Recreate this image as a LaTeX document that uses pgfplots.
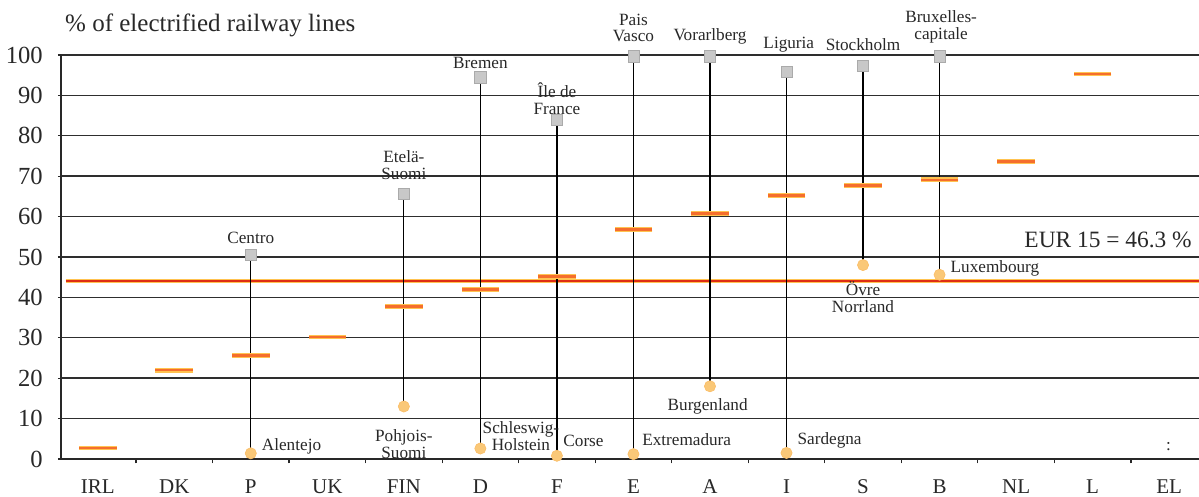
\documentclass[border=0pt]{standalone}
\usepackage{fontspec}
\setmainfont{Liberation Serif}
\usepackage{pgfplots}
\pgfplotsset{compat=1.18}

\definecolor{natdash}{RGB}{245,110,45}
\definecolor{dashhalo}{RGB}{255,195,80}
\definecolor{eurred}{RGB}{222,45,20}
\definecolor{maxgrey}{RGB}{200,200,200}
\definecolor{minyel}{RGB}{250,200,120}
\definecolor{txt}{RGB}{40,40,40}

\begin{document}
\begin{tikzpicture}
\begin{axis}[
  scale only axis,
  width=569pt, height=202pt,
  xmin=-0.48, xmax=14.39, ymin=0, ymax=100,
  axis x line=bottom, axis y line=left,
  axis line style={-, line width=0.7pt, color=txt},
  xtick={0,...,14},
  xticklabels={IRL,DK,P,UK,FIN,D,F,E,A,I,S,B,NL,L,EL},
  major x tick style={draw=none},
  minor xtick={0.5,1.5,...,13.5},
  minor tick length=2.2pt,
  major tick length=1.6pt,
  tick align=outside,
  tick style={line width=0.6pt, color=txt},
  ytick={0,10,...,100},
  ymajorgrids,
  grid style={line width=0.7pt, color=black!82},
  x tick label style={font=\fontsize{10.5}{12}\selectfont, color=txt, yshift=-5pt},
  y tick label style={font=\fontsize{12.3}{13}\selectfont, color=txt, xshift=-4pt},
  /pgf/number format/assume math mode=true,
  clip=false,
]
% EUR 15 average line
\addplot[color=dashhalo, line width=2pt] coordinates {(-0.42,44) (14.39,44)};
\addplot[color=eurred, line width=1pt] coordinates {(-0.42,44) (14.39,44)};

% national values
\addplot[only marks, mark=-, mark size=9.4pt, mark options={line width=2.4pt, color=dashhalo}]
  coordinates {(0,2.7) (1,22) (2,25.6) (3,30.2) (4,37.7) (5,41.9) (6,45.2) (7,56.8) (8,60.7) (9,65.2) (10,67.7) (11,69.1) (12,73.7) (13,95.3)};
\addplot[only marks, mark=-, mark size=9.4pt, mark options={line width=1.3pt, color=natdash}]
  coordinates {(0,2.7) (1,22) (2,25.6) (3,30.2) (4,37.7) (5,41.9) (6,45.2) (7,56.8) (8,60.7) (9,65.2) (10,67.7) (11,69.1) (12,73.7) (13,95.3)};

% regional ranges
\addplot[black, line width=0.6pt] coordinates {(2,50.5) (2,1.4)};
\addplot[black, line width=0.6pt] coordinates {(4,65.7) (4,13.0)};
\addplot[black, line width=0.6pt] coordinates {(5,94.5) (5,2.6)};
\addplot[black, line width=0.6pt] coordinates {(6,84.0) (6,0.8)};
\addplot[black, line width=0.6pt] coordinates {(7,99.7) (7,1.2)};
\addplot[black, line width=0.6pt] coordinates {(8,99.7) (8,18.0)};
\addplot[black, line width=0.6pt] coordinates {(9,95.9) (9,1.5)};
\addplot[black, line width=0.6pt] coordinates {(10,97.4) (10,48.0)};
\addplot[black, line width=0.6pt] coordinates {(11,99.7) (11,45.6)};

% highest region
\addplot[only marks, mark=square*, mark size=2.8pt, mark options={fill=maxgrey, draw=maxgrey!85!black, line width=0.3pt}]
  coordinates {(2,50.5) (4,65.7) (5,94.5) (6,84.0) (7,99.7) (8,99.7) (9,95.9) (10,97.4) (11,99.7)};
% lowest region
\addplot[only marks, mark=*, mark size=2.8pt, mark options={fill=minyel, draw=minyel!85!orange, line width=0.3pt}]
  coordinates {(2,1.4) (4,13.0) (5,2.6) (6,0.8) (7,1.2) (8,18.0) (9,1.5) (10,48.0) (11,45.6)};

% annotations
\begin{scope}[every node/.style={font=\fontsize{8.6}{8.4}\selectfont, color=txt, inner sep=0pt, align=center}]
\node at (axis cs:2,54.7) {Centro};
\node at (axis cs:4,72.8) {Etelä-\\Suomi};
\node at (axis cs:5,98.0) {Bremen};
\node at (axis cs:6,89.1) {Île de\\France};
\node at (axis cs:7,106.7) {Pais\\Vasco};
\node at (axis cs:8,104.5) {Vorarlberg};
\node at (axis cs:9.03,102.5) {Liguria};
\node at (axis cs:10,102.5) {Stockholm};
\node at (axis cs:11.02,107) {Bruxelles-\\capitale};
\node[anchor=west] at (axis cs:2.14,3.2) {Alentejo};
\node at (axis cs:4.0,3.7) {Pohjois-\\Suomi};
\node at (axis cs:5.53,5.7) {Schleswig-\\Holstein};
\node[anchor=west] at (axis cs:6.08,4.5) {Corse};
\node[anchor=west] at (axis cs:7.11,4.7) {Extremadura};
\node at (axis cs:7.97,13.1) {Burgenland};
\node[anchor=west] at (axis cs:9.14,4.7) {Sardegna};
\node at (axis cs:10,40.1) {Övre\\Norrland};
\node[anchor=west] at (axis cs:11.14,47.3) {Luxembourg};
\node at (axis cs:13.99,3.0) {:};
\end{scope}
\node[anchor=east, font=\fontsize{11.7}{13}\selectfont, color=txt, inner sep=0pt] at (axis cs:14.3,54.2) {EUR 15 = 46.3 \%};
\node[anchor=west, font=\fontsize{12.5}{14}\selectfont, color=txt, inner sep=0pt] at (axis cs:-0.43,107.4) {\% of electrified railway lines};
\end{axis}
\pgfresetboundingbox
\path (-30.5pt,-19pt) rectangle (569pt,229.5pt);
\end{tikzpicture}
\end{document}
